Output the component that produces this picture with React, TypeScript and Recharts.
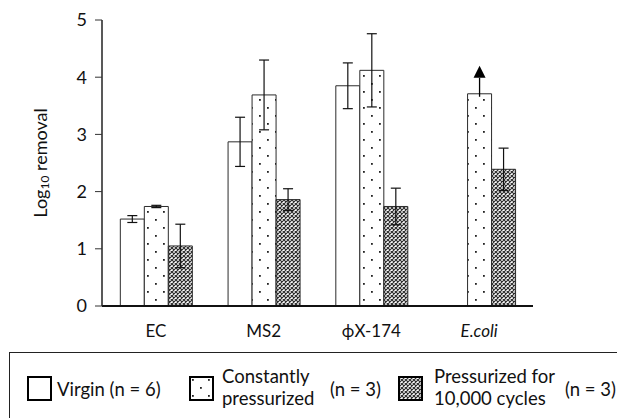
import { BarChart, Bar, XAxis, YAxis, ErrorBar, LabelList } from "recharts";

// categories and series values
const categories = ["EC", "MS2", "ϕX-174", "E.coli"];
const italicCats = ["E.coli"];
const virgin = [1.52, 2.87, 3.85, null];
const virginErr = [0.06, 0.43, 0.4, null];
const constant = [1.74, 3.69, 4.12, 3.71];
const constantErr = [0.02, 0.61, 0.64, 0];
const constantLowerBound = [false, false, false, true];
const cycled = [1.05, 1.86, 1.74, 2.39];
const cycledErr = [0.38, 0.19, 0.32, 0.37];
const yTicks = [0, 1, 2, 3, 4, 5];

const FONT = "Lato, 'Open Sans', sans-serif";
const EDGE = "#2b2b2b";

const data = categories.map((c, i) => ({
  name: c,
  virgin: virgin[i],
  virginErr: virginErr[i],
  constant: constant[i],
  constantErr: constantErr[i],
  cycled: cycled[i],
  cycledErr: cycledErr[i],
}));

function PatternDefs({ prefix }: { prefix: string }) {
  return (
    <defs>
      <pattern id={`${prefix}-dots`} width="16" height="16" patternUnits="userSpaceOnUse">
        <rect width="16" height="16" fill="#fff" />
        <rect x="3" y="3" width="1.8" height="1.8" fill="#222" />
        <rect x="11" y="11" width="1.8" height="1.8" fill="#222" />
      </pattern>
      <pattern id={`${prefix}-hatch`} width="4" height="4" patternUnits="userSpaceOnUse">
        <rect width="4" height="4" fill="#fff" />
        <path d="M0,0 L4,4 M4,0 L0,4" stroke="#2e2e2e" strokeWidth="1.2" />
      </pattern>
    </defs>
  );
}

function CatTick({ x, y, payload }: any) {
  const italic = italicCats.includes(payload.value);
  return (
    <text
      x={x}
      y={y + 23}
      textAnchor="middle"
      fontFamily={FONT}
      fontSize={17}
      fontStyle={italic ? "italic" : "normal"}
      fill="#111"
    >
      {payload.value}
    </text>
  );
}

function YLabel({ viewBox }: any) {
  const cx = viewBox.x + 40;
  const cy = viewBox.y + viewBox.height / 2;
  return (
    <text
      transform={`translate(${cx},${cy}) rotate(-90)`}
      textAnchor="middle"
      dominantBaseline="central"
      fontFamily={FONT}
      fontSize={18}
      fill="#111"
    >
      Log
      <tspan fontSize={12} dy={4}>10</tspan>
      <tspan dy={-4}> removal</tspan>
    </text>
  );
}

// upward arrow above a bar whose value is a lower bound
function LowerBoundArrow({ x, y, width, index }: any) {
  if (!constantLowerBound[index]) return null;
  const cx = x + width / 2;
  return (
    <g>
      <line x1={cx} y1={y + 3} x2={cx} y2={y - 16} stroke="#000" strokeWidth={1.3} />
      <path d={`M${cx - 6},${y - 16} L${cx + 6},${y - 16} L${cx},${y - 28} Z`} fill="#000" />
    </g>
  );
}

function Swatch({ fill, id }: { fill: string; id: string }) {
  return (
    <svg width={25} height={25} style={{ display: "block" }}>
      <PatternDefs prefix={id} />
      <rect x={1} y={1} width={23} height={23} fill={fill} stroke="#000" strokeWidth={2} />
    </svg>
  );
}

export default function App() {
  const textStyle = { fontFamily: FONT, fontSize: 18.5, color: "#111", lineHeight: "22px" };
  return (
    <div style={{ position: "absolute", left: 0, top: 0, width: 617, height: 418, overflow: "hidden", background: "#fff" }}>
      <BarChart
        width={617}
        height={418}
        data={data}
        margin={{ top: 20, right: 84, left: 0, bottom: 82 }}
        barCategoryGap="17%"
        barGap={0}
      >
        <PatternDefs prefix="chart" />
        <XAxis
          dataKey="name"
          tick={<CatTick />}
          tickLine={false}
          axisLine={{ stroke: "#111", strokeWidth: 2 }}
          height={30}
          interval={0}
        />
        <XAxis xAxisId="top" orientation="top" dataKey="name" tick={false} tickLine={false} axisLine={{ stroke: "#777", strokeWidth: 1.5 }} height={0} />
        <YAxis
          domain={[0, 5]}
          ticks={yTicks}
          width={102}
          tickSize={7}
          tickMargin={8}
          tick={{ fontFamily: FONT, fontSize: 18, fill: "#111" }}
          tickLine={{ stroke: "#333" }}
          axisLine={{ stroke: "#222", strokeWidth: 1.5 }}
          label={<YLabel />}
        />
        <YAxis yAxisId="right" orientation="right" domain={[0, 5]} tick={false} tickLine={false} axisLine={{ stroke: "#222", strokeWidth: 1.5 }} width={0} />
        <Bar dataKey="virgin" fill="#fff" stroke={EDGE} strokeWidth={1} isAnimationActive={false}>
          <ErrorBar dataKey="virginErr" width={5} stroke="#111" strokeWidth={1.2} direction="y" />
        </Bar>
        <Bar dataKey="constant" fill="url(#chart-dots)" stroke={EDGE} strokeWidth={1} isAnimationActive={false}>
          <ErrorBar dataKey="constantErr" width={5} stroke="#111" strokeWidth={1.2} direction="y" />
          <LabelList dataKey="constant" content={<LowerBoundArrow />} />
        </Bar>
        <Bar dataKey="cycled" fill="url(#chart-hatch)" stroke={EDGE} strokeWidth={1} isAnimationActive={false}>
          <ErrorBar dataKey="cycledErr" width={5} stroke="#111" strokeWidth={1.2} direction="y" />
        </Bar>
      </BarChart>

      {/* legend box, runs off the right and bottom edge as in the figure */}
      <div
        style={{
          position: "absolute",
          left: 9,
          top: 352,
          width: 700,
          height: 100,
          border: "1.5px solid #222",
          boxSizing: "border-box",
        }}
      />
      <div style={{ position: "absolute", left: 27, top: 376 }}>
        <Swatch fill="#fff" id="lg1" />
      </div>
      <div style={{ ...textStyle, position: "absolute", left: 57, top: 378, whiteSpace: "nowrap" }}>Virgin (n = 6)</div>
      <div style={{ position: "absolute", left: 189, top: 376 }}>
        <Swatch fill="url(#lg2-dots)" id="lg2" />
      </div>
      <div style={{ ...textStyle, position: "absolute", left: 222, top: 365, whiteSpace: "nowrap" }}>
        Constantly
        <br />
        pressurized
      </div>
      <div style={{ ...textStyle, position: "absolute", left: 330, top: 378, whiteSpace: "nowrap" }}>(n = 3)</div>
      <div style={{ position: "absolute", left: 398, top: 376 }}>
        <Swatch fill="url(#lg3-hatch)" id="lg3" />
      </div>
      <div style={{ ...textStyle, position: "absolute", left: 434, top: 365, whiteSpace: "nowrap" }}>
        Pressurized for
        <br />
        10,000 cycles
      </div>
      <div style={{ ...textStyle, position: "absolute", left: 565, top: 378, whiteSpace: "nowrap" }}>(n = 3)</div>
    </div>
  );
}
